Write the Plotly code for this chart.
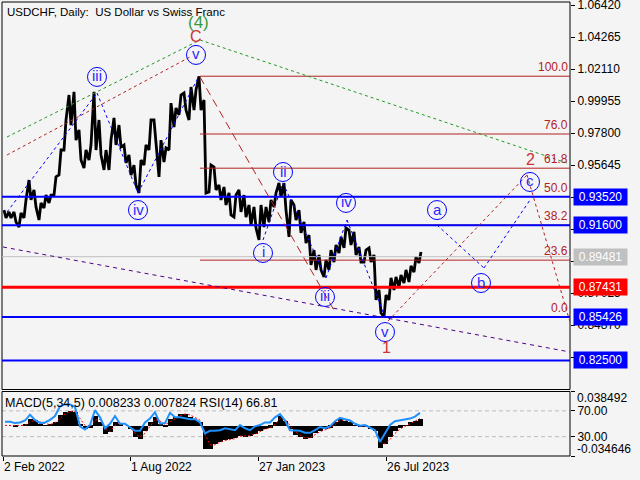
import plotly.graph_objects as go

# ---------------- data ----------------
BARS_PER_WEEK = 5
date_tick_bars = [0, 127, 255, 383]
date_tick_labels = ["2 Feb 2022", "1 Aug 2022", "27 Jan 2023", "26 Jul 2023"]

# weekly high / low of USDCHF daily bars (Feb 2022 - Sep 2023)
week_high = [0.9262, 0.9249, 0.9249, 0.9242, 0.9330, 0.9464, 0.9397, 0.9310, 0.9363, 0.9363,
             0.9485, 0.9666, 0.9868, 1.0036, 1.0057, 0.9801, 0.9666, 0.9700, 1.0057, 0.9868,
             0.9666, 0.9733, 0.9882, 0.9834, 0.9700, 0.9633, 0.9565, 0.9599, 0.9700, 0.9868,
             0.9868, 0.9733, 0.9680, 0.9982, 0.9949, 1.0036, 1.0050, 1.0090, 1.0070, 1.0162,
             1.0003, 0.9565, 0.9552, 0.9431, 0.9417, 0.9377, 0.9363, 0.9397, 0.9363, 0.9296,
             0.9283, 0.9296, 0.9283, 0.9330, 0.9377, 0.9444, 0.9444, 0.9330, 0.9296, 0.9262,
             0.9182, 0.9094, 0.8993, 0.8960, 0.8926, 0.8993, 0.9027, 0.9081, 0.9141, 0.9128,
             0.9115, 0.9013, 0.8993, 0.9007, 0.8960, 0.8724, 0.8690, 0.8805, 0.8812, 0.8825,
             0.8859, 0.8886, 0.8946, 0.8980]
week_low = [0.9209, 0.9209, 0.9182, 0.9148, 0.9209, 0.9330, 0.9283, 0.9195, 0.9276, 0.9310,
            0.9363, 0.9498, 0.9666, 0.9834, 0.9733, 0.9599, 0.9545, 0.9599, 0.9666, 0.9633,
            0.9532, 0.9532, 0.9700, 0.9686, 0.9579, 0.9498, 0.9431, 0.9377, 0.9565, 0.9666,
            0.9733, 0.9485, 0.9585, 0.9666, 0.9821, 0.9902, 0.9935, 0.9868, 0.9935, 0.9935,
            0.9377, 0.9384, 0.9397, 0.9330, 0.9296, 0.9229, 0.9215, 0.9249, 0.9215, 0.9161,
            0.9141, 0.9061, 0.9148, 0.9182, 0.9283, 0.9350, 0.9262, 0.9081, 0.9195, 0.9108,
            0.9040, 0.8892, 0.8859, 0.8859, 0.8812, 0.8859, 0.8912, 0.8973, 0.9007, 0.9027,
            0.8960, 0.8912, 0.8912, 0.8912, 0.8657, 0.8569, 0.8543, 0.8657, 0.8724, 0.8744,
            0.8771, 0.8778, 0.8845, 0.8906]

rsi14 = [53, 53, 51, 52, 55, 64, 56, 51, 52, 56,
         62, 77, 80, 80, 76, 46, 41, 48, 71, 60,
         43, 50, 62, 50, 50, 45, 39, 39, 52, 58,
         68, 50, 51, 67, 60, 60, 58, 57, 57, 52,
         35, 39, 39, 40, 43, 42, 40, 48, 43, 40,
         46, 48, 52, 52, 60, 65, 55, 40, 40, 39,
         36, 36, 40, 45, 43, 46, 54, 59, 57, 55,
         50, 47, 48, 44, 40, 22, 34, 48, 54, 55,
         57, 58, 61, 66.81]

macd_main = [0.000, 0.000, -0.001, 0.000, 0.002, 0.008, 0.007, 0.002, 0.001, 0.002,
             0.005, 0.012, 0.016, 0.017, 0.016, 0.002, -0.004, -0.002, 0.011, 0.005,
             -0.009, -0.007, 0.005, 0.002, 0.000, -0.004, -0.013, -0.015, -0.006, 0.004,
             0.010, 0.002, -0.001, 0.008, 0.010, 0.013, 0.014, 0.010, 0.007, 0.004,
             -0.026, -0.026, -0.020, -0.018, -0.016, -0.015, -0.014, -0.011, -0.012, -0.011,
             -0.009, -0.006, -0.003, -0.002, 0.004, 0.011, 0.006, -0.004, -0.010, -0.013,
             -0.015, -0.014, -0.008, -0.006, -0.004, -0.002, 0.004, 0.008, 0.006, 0.004,
             0.001, -0.001, -0.001, -0.003, -0.006, -0.025, -0.020, -0.013, -0.006, -0.002,
             0.001, 0.004, 0.006, 0.008233]

macd_signal = [0.000, 0.000, 0.000, -0.0005, 0.000, 0.004, 0.006, 0.004, 0.002, 0.001,
               0.003, 0.008, 0.013, 0.016, 0.016, 0.008, 0.000, -0.002, 0.006, 0.007,
               -0.003, -0.007, 0.000, 0.003, 0.001, -0.002, -0.009, -0.013, -0.009, -0.001,
               0.007, 0.005, 0.001, 0.004, 0.008, 0.011, 0.013, 0.012, 0.009, 0.006,
               -0.010, -0.022, -0.022, -0.019, -0.017, -0.016, -0.015, -0.012, -0.012, -0.011,
               -0.010, -0.007, -0.004, -0.003, 0.001, 0.008, 0.007, 0.000, -0.007, -0.011,
               -0.014, -0.014, -0.010, -0.007, -0.005, -0.003, 0.001, 0.006, 0.006, 0.005,
               0.002, 0.000, -0.001, -0.002, -0.005, -0.018, -0.021, -0.016, -0.009, -0.004,
               -0.001, 0.002, 0.005, 0.007824]

price_ticks = [1.06420, 1.04265, 1.02110, 0.99955, 0.97800, 0.95645,
               0.93490, 0.91335, 0.89180, 0.87025, 0.84870, 0.82715]
blue_levels = [0.93520, 0.91600, 0.85426, 0.82500]
red_level = 0.87431
last_price = 0.89481

fib_high, fib_low = 1.01626, 0.85426
fib_start_bar = 197
fib_ratios = [1.0, 0.76, 0.618, 0.5, 0.382, 0.236, 0.0]

macd_max, macd_min = 0.038492, -0.034646

# wave analysis drawings (bar index, price)
green_line = [(4, 0.97537), (197, 1.04065), (567, 0.95720)]
brown_dot_line = [(4, 0.96325), (187, 1.02921)]
blue_wave_1 = [(4, 0.92489), (94, 1.00498), (135, 0.93768), (196, 1.01642)]
blue_wave_2 = [(260, 0.90605), (280, 0.94441), (323, 0.88048), (344, 0.91951), (382, 0.85422)]
brown_dash_line = [(197, 1.01575), (332, 0.85761)]
red_forecast = [(385, 0.85154), (524, 0.94982), (567, 0.85086)]
blue_abc = [(434, 0.91614), (481, 0.88721), (527, 0.93297)]
purple_line = [(0, 0.90134), (567, 0.83068)]

circle_labels = [("iii", 94, 1.0158), ("v", 193, 1.0306), ("iv", 135, 0.9262),
                 ("i", 260, 0.8973), ("ii", 280, 0.9518), ("iii", 322, 0.8677),
                 ("iv", 343, 0.9310), ("v", 382, 0.8441), ("a", 434, 0.9262),
                 ("b", 478, 0.8771), ("c", 527, 0.9451)]
plain_labels = [("(4)", 195, 1.05209, "#3a9a3a", 17), ("C", 193, 1.04334, "#cc3333", 16),
                ("2", 527, 0.95989, "#cc3333", 16), ("1", 383, 0.83337, "#cc3333", 16)]

# ---------------- figure ----------------
W, H = 640, 480
ML, MR, MT, MB = 2, 70, 2, 24
PH = H - MT - MB  # plot height px
main_bottom_px = 389.5
panel_top_px = 391.5
main_dom = [(H - MB - main_bottom_px) / PH, 1]
panel_dom = [0, (H - MB - panel_top_px) / PH]
PRICE_PER_PX = 0.000673
y_top = 1.06420 + (5 - MT) * PRICE_PER_PX
y_bot = 1.06420 - (main_bottom_px - 5) * PRICE_PER_PX


def ppx(ypix):
    return (H - MB - ypix) / PH


def xpx(xpix):
    return (xpix - ML) / (W - ML - MR)


FONT = "Liberation Sans"
fig = go.Figure()

# price bars: jagged line through each week's high and low (order follows the trend)
bx, by = [], []
n = len(week_high)
for k in range(n):
    h, l = week_high[k], week_low[k]
    mid = (h + l) / 2
    nxt = (week_high[k + 1] + week_low[k + 1]) / 2 if k + 1 < n else mid
    first, second = (l, h) if nxt >= mid else (h, l)
    bx += [k * BARS_PER_WEEK + 1, k * BARS_PER_WEEK + 3]
    by += [first, second]
fig.add_trace(go.Scatter(x=bx, y=by, mode="lines", line=dict(color="black", width=2.8),
                         xaxis="x", yaxis="y", hoverinfo="skip"))

wx = [k * BARS_PER_WEEK + 2 for k in range(len(macd_main))]
fig.add_trace(go.Bar(x=wx, y=macd_main, width=BARS_PER_WEEK, marker=dict(color="black", line=dict(width=0)),
                     xaxis="x", yaxis="y2"))
fig.add_trace(go.Scatter(x=wx, y=macd_signal, mode="lines", line=dict(color="red", width=1, dash="2px,2px"),
                         xaxis="x", yaxis="y2"))
fig.add_trace(go.Scatter(x=wx, y=rsi14, mode="lines", line=dict(color="#1E90FF", width=2),
                         xaxis="x", yaxis="y3"))

shapes = []
# frames
shapes.append(dict(type="rect", xref="paper", yref="paper", x0=0, x1=1, y0=main_dom[0], y1=1,
                   line=dict(color="black", width=1), layer="above"))
shapes.append(dict(type="rect", xref="paper", yref="paper", x0=0, x1=1, y0=0, y1=panel_dom[1],
                   line=dict(color="black", width=1), layer="above"))
# RSI levels
for lv in (70, 30):
    shapes.append(dict(type="line", xref="paper", yref="y3", x0=0, x1=1, y0=lv, y1=lv,
                       line=dict(color="#bbbbbb", width=1, dash="4px,3px"), layer="below"))
# full width levels
shapes.append(dict(type="line", xref="paper", yref="y", x0=0, x1=1, y0=last_price, y1=last_price,
                   line=dict(color="#c0c0c0", width=1), layer="above"))
# fibonacci
for r in fib_ratios:
    lv = fib_low + r * (fib_high - fib_low)
    shapes.append(dict(type="line", xref="x", yref="y", x0=fib_start_bar, x1=567, y0=lv, y1=lv,
                       line=dict(color="#b22222", width=1), layer="above"))
for lv in blue_levels:
    shapes.append(dict(type="line", xref="paper", yref="y", x0=0, x1=1, y0=lv, y1=lv,
                       line=dict(color="#0000ff", width=2), layer="above"))
shapes.append(dict(type="line", xref="paper", yref="y", x0=0, x1=1, y0=red_level, y1=red_level,
                   line=dict(color="#ff0000", width=3), layer="above"))


def polyline(pts, color, dash, width=1):
    for (x0, y0), (x1, y1) in zip(pts[:-1], pts[1:]):
        shapes.append(dict(type="line", xref="x", yref="y", x0=x0, y0=y0, x1=x1, y1=y1,
                           line=dict(color=color, width=width, dash=dash), layer="above"))


polyline(green_line, "#1f9a1f", "3px,3px")
polyline(brown_dot_line, "#b22222", "3px,3px")
polyline(blue_wave_1, "#0000ff", "3px,3px")
polyline(blue_wave_2, "#0000ff", "3px,3px")
polyline(brown_dash_line, "#b22222", "8px,5px")
polyline(red_forecast, "#b22222", "3px,3px")
polyline(blue_abc, "#0000ff", "3px,3px")
polyline(purple_line, "#4b0082", "4px,4px")

annotations = []
for txt, b, p in circle_labels:
    shapes.append(dict(type="circle", xref="x", yref="y", xsizemode="pixel", ysizemode="pixel",
                       xanchor=b, yanchor=p, x0=-9.5, x1=9.5, y0=-9.5, y1=9.5,
                       line=dict(color="#0000ff", width=1), fillcolor="rgba(0,0,0,0)", layer="above"))
    annotations.append(dict(x=b, y=p, xref="x", yref="y", text=txt, showarrow=False,
                            font=dict(family=FONT, size=15, color="#2a2aff"), yshift=1))
for txt, b, p, col, sz in plain_labels:
    annotations.append(dict(x=b, y=p, xref="x", yref="y", text=txt, showarrow=False,
                            font=dict(family=FONT, size=sz, color=col)))

# fib labels
for r in fib_ratios:
    lv = fib_low + r * (fib_high - fib_low)
    annotations.append(dict(x=567, y=lv, xref="x", yref="y", text=f"{r * 100:.1f}", showarrow=False,
                            xanchor="right", yanchor="bottom", yshift=0,
                            font=dict(family=FONT, size=12, color="#b22222")))

# price boxes on the right axis
boxes = [(lv, "#0000ff", "white") for lv in blue_levels] + [(last_price, "#c0c0c0", "white"),
                                                            (red_level, "#ff0000", "white")]
for lv, bg, fg in boxes:
    annotations.append(dict(xref="paper", x=xpx(573), xanchor="left", yref="y", y=lv, yanchor="middle",
                            text=f"{lv:.5f}", showarrow=False, bgcolor=bg, borderpad=1, width=51,
                            font=dict(family=FONT, size=12, color=fg)))


def paper_text(txt, xp, yp, size=12):
    annotations.append(dict(xref="paper", yref="paper", x=xpx(xp), y=ppx(yp), xanchor="left",
                            yanchor="middle", text=txt, showarrow=False,
                            font=dict(family=FONT, size=size, color="black")))


paper_text("USDCHF, Daily:  US Dollar vs Swiss Franc", 5, 12, 11.5)
paper_text(f"MACD(5,34,5) {macd_main[-1]:.6f} {macd_signal[-1]:.6f} RSI(14) {rsi14[-1]:.2f}", 3, 403, 12.5)
paper_text(f"{macd_max:.6f}", 575, 398)
paper_text(f"{macd_min:.6f}", 575, 449)
# date labels
for b, lab in zip(date_tick_bars, date_tick_labels):
    annotations.append(dict(xref="x", x=b - 1, yref="paper", y=ppx(467), xanchor="left",
                            yanchor="middle", text=lab, showarrow=False, font=dict(family=FONT, size=12)))

fig.update_layout(
    width=W, height=H, margin=dict(l=ML, r=MR, t=MT, b=MB, autoexpand=False),
    paper_bgcolor="#f4f4f4", plot_bgcolor="#f4f4f4", showlegend=False, bargap=0,
    font=dict(family=FONT, size=12, color="black"),
    xaxis=dict(range=[-1, 567], anchor="y2", showgrid=False, zeroline=False, showline=False,
               tickvals=date_tick_bars, ticktext=[""] * len(date_tick_bars), ticks="outside",
               ticklen=4, tickcolor="black", automargin=False),
    yaxis=dict(domain=main_dom, range=[y_bot, y_top], side="right", anchor="x", showgrid=False,
               zeroline=False, showline=False, tickvals=price_ticks,
               ticktext=[f"{v:.5f}" for v in price_ticks], ticks="outside", ticklen=4,
               tickcolor="black", tickfont=dict(family=FONT, size=12), ticklabeloverflow="allow",
               automargin=False),
    yaxis2=dict(domain=panel_dom, range=[macd_min, macd_max], side="right", anchor="x",
                showgrid=False, zeroline=False, showline=False, tickvals=[macd_max, macd_min],
                ticktext=["", ""], ticks="outside", ticklen=4, tickcolor="black", automargin=False),
    yaxis3=dict(overlaying="y2", range=[0, 100], side="right", anchor="x", showgrid=False,
                zeroline=False, showline=False, tickvals=[70, 30], ticktext=["70.00", "30.00"],
                ticks="outside", ticklen=4, tickcolor="black", tickfont=dict(family=FONT, size=12),
                automargin=False),
    shapes=shapes, annotations=annotations,
)

fig.write_html("out.html", config={"displayModeBar": False},
               post_script="document.body.style.margin='0px';document.body.style.background='#f4f4f4';")
